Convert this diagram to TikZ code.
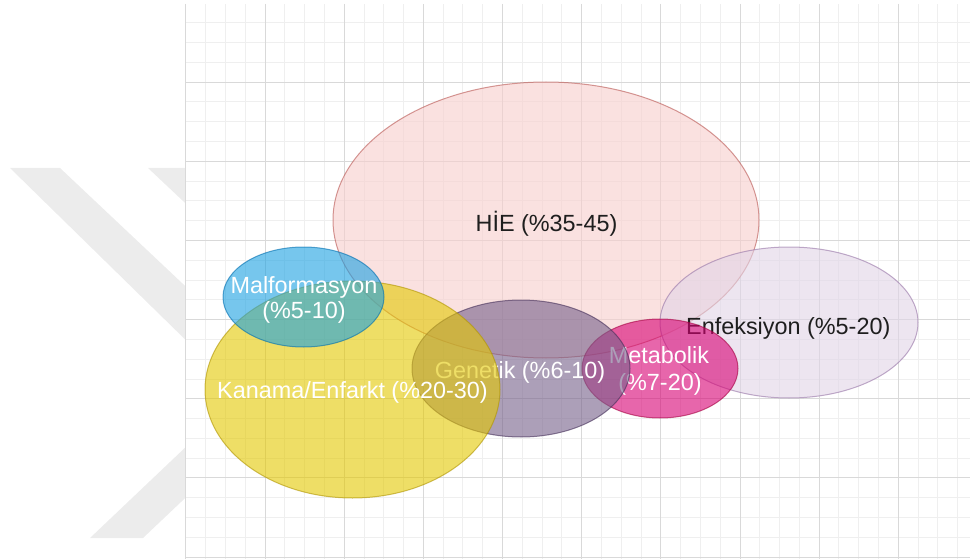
\documentclass[tikz,border=0pt]{standalone}
\usepackage{fontspec}
\setmainfont{Liberation Sans}
\usetikzlibrary{shapes.geometric}
\definecolor{wmark}{HTML}{ECECEC}
\definecolor{gridminor}{HTML}{EFEFEF}
\definecolor{gridmajor}{HTML}{D9D9D9}
\definecolor{hieF}{HTML}{F8CECC}\definecolor{hieD}{HTML}{B85450}
\definecolor{enfF}{HTML}{E1D5E7}\definecolor{enfD}{HTML}{9673A6}
\definecolor{metF}{HTML}{D80073}\definecolor{metD}{HTML}{A50040}
\definecolor{genF}{HTML}{76608A}\definecolor{genD}{HTML}{432D57}
\definecolor{kanF}{HTML}{E3C800}\definecolor{kanD}{HTML}{B09500}
\definecolor{malF}{HTML}{1BA1E2}\definecolor{malD}{HTML}{006EAF}
\definecolor{txtdark}{HTML}{1E1E1E}
\begin{document}
\begin{tikzpicture}[x=1pt,y=-1pt,
  blob/.style={ellipse, inner sep=0pt, outer sep=0pt, line width=1pt,
    fill opacity=0.6, draw opacity=0.6},
  lbl/.style={font=\fontsize{23.4}{27}\selectfont, inner sep=0pt, anchor=base},
  darklbl/.style={lbl, text=txtdark},
  lightlbl/.style={lbl, text=white}]
\useasboundingbox (0,0) rectangle (970,559);
% watermark
\fill[wmark] (10,168) -- (60,168) -- (200,300) -- (200,354) -- cycle;
\fill[wmark] (148,168) -- (200,168) -- (200,217) -- cycle;
\fill[wmark] (90,538) -- (143,538) -- (200,484) -- (200,433.5) -- cycle;
% grid
\fill[white] (185.4,4) rectangle (970,559);
\foreach \k in {0,...,39} {
  \pgfmathsetmacro\xx{185.9+\k*19.79}
  \draw[gridminor, line width=1pt] (\xx,4) -- (\xx,559);
}
\foreach \k in {1,...,28} {
  \pgfmathsetmacro\yy{3+\k*19.79}
  \draw[gridminor, line width=1pt] (185.4,\yy) -- (970,\yy);
}
\foreach \k in {0,...,9} {
  \pgfmathsetmacro\xx{185.9+\k*79.16}
  \draw[gridmajor, line width=1pt] (\xx,4) -- (\xx,559);
}
\foreach \k in {1,...,7} {
  \pgfmathsetmacro\yy{3+\k*79.16}
  \draw[gridmajor, line width=1pt] (185.4,\yy) -- (970,\yy);
}
% sets
\node[blob, fill=hieF, draw=hieD, minimum width=426pt, minimum height=276pt] (hie) at (546,220) {};
\node[darklbl] (hieT) at (546.5,231) {HİE (\%35-45)};
\node[blob, fill=enfF, draw=enfD, minimum width=258pt, minimum height=151pt] (enf) at (789,322.5) {};
\node[darklbl] (enfT) at (788.3,334) {Enfeksiyon (\%5-20)};
\node[blob, fill=metF, draw=metD, minimum width=156pt, minimum height=99pt] (met) at (660,368.5) {};
\node[lightlbl] (metT1) at (659,363) {Metabolik};
\node[lightlbl] (metT2) at (660,390.5) {(\%7-20)};
\node[blob, fill=genF, draw=genD, minimum width=218pt, minimum height=137pt] (gen) at (521,368.5) {};
\node[lightlbl] (genT) at (520,378) {Genetik (\%6-10)};
\node[blob, fill=kanF, draw=kanD, minimum width=295pt, minimum height=217pt] (kan) at (352.5,389.5) {};
\node[lightlbl] (kanT) at (352.5,398) {Kanama/Enfarkt (\%20-30)};
\node[blob, fill=malF, draw=malD, minimum width=161pt, minimum height=100pt] (mal) at (303.5,297) {};
\node[lightlbl] (malT1) at (304,293) {Malformasyon};
\node[lightlbl] (malT2) at (304,318.5) {(\%5-10)};
\end{tikzpicture}
\end{document}
